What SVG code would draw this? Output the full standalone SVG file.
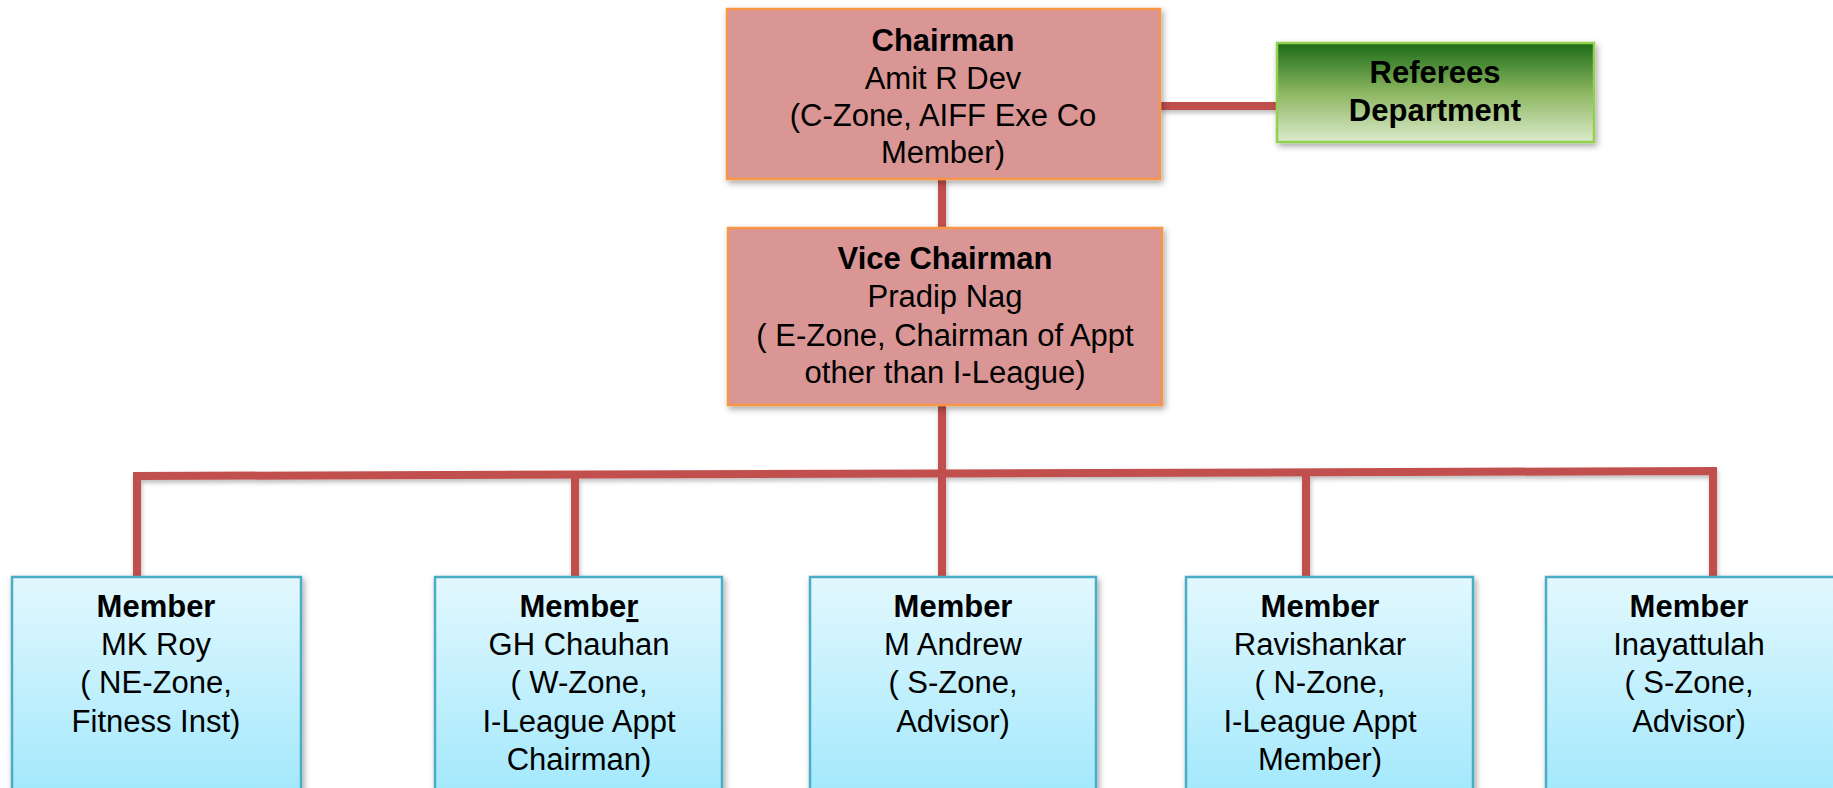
<svg xmlns="http://www.w3.org/2000/svg" width="1833" height="788" viewBox="0 0 1833 788">
<defs>
<linearGradient id="gGreen" x1="0" y1="0" x2="0" y2="1">
<stop offset="0" stop-color="#1B6B17"/>
<stop offset="0.5" stop-color="#8CB660"/>
<stop offset="1" stop-color="#DCEACB"/>
</linearGradient>
<linearGradient id="gBlue" x1="0" y1="0" x2="0" y2="1">
<stop offset="0" stop-color="#E2F8FE"/>
<stop offset="1" stop-color="#A2E8FC"/>
</linearGradient>
<filter id="sh" x="-10%" y="-10%" width="130%" height="130%">
<feDropShadow dx="2" dy="3" stdDeviation="3" flood-color="#000" flood-opacity="0.35"/>
</filter>
<filter id="lsh" x="-5%" y="-50%" width="110%" height="200%">
<feDropShadow dx="1" dy="3" stdDeviation="2" flood-color="#000" flood-opacity="0.25"/>
</filter>
</defs>
<style>
.red{fill:#D99694;stroke:#F79646;stroke-width:2.5}
.green{fill:url(#gGreen);stroke:#92D050;stroke-width:2.5}
.blue{fill:url(#gBlue);stroke:#4BACC6;stroke-width:2.5}
.conn{fill:none;stroke:#C0504D;stroke-width:8;stroke-linejoin:miter}
text{font-family:"Liberation Sans",Arial,sans-serif;font-size:31px;fill:#000;text-anchor:middle}
.b{font-weight:bold}
</style>
<g id="connectors" filter="url(#lsh)">
<path class="conn" d="M1160 106 H1277"/>
<path class="conn" d="M942 179 V228"/>
<path class="conn" d="M942 406 V577"/>
<path class="conn" d="M137 577 V476 L1713 471 V577"/>
<path class="conn" d="M575 476 V577"/>
<path class="conn" d="M1306 472 V577"/>
</g>
<g id="chairman">
<rect class="red" x="727" y="9" width="433" height="170" filter="url(#sh)"/>
<text x="943" y="51" class="b">Chairman</text>
<text x="943" y="89">Amit R Dev</text>
<text x="943" y="126">(C-Zone, AIFF Exe Co</text>
<text x="943" y="163">Member)</text>
</g>
<g id="referees">
<rect class="green" x="1277" y="43" width="317" height="99" filter="url(#sh)"/>
<text x="1435" y="83" class="b">Referees</text>
<text x="1435" y="121" class="b">Department</text>
</g>
<g id="vice-chairman">
<rect class="red" x="728" y="228" width="434" height="177" filter="url(#sh)"/>
<text x="945" y="269" class="b">Vice Chairman</text>
<text x="945" y="307">Pradip Nag</text>
<text x="945" y="346">( E-Zone, Chairman of Appt</text>
<text x="945" y="383">other than I-League)</text>
</g>
<g id="member-1">
<rect class="blue" x="12" y="577" width="289" height="220" filter="url(#sh)"/>
<text x="156" y="617" class="b">Member</text>
<text x="156" y="655">MK Roy</text>
<text x="156" y="693">( NE-Zone,</text>
<text x="156" y="732">Fitness Inst)</text>
</g>
<g id="member-2">
<rect class="blue" x="435" y="577" width="287" height="220" filter="url(#sh)"/>
<text x="579" y="617" class="b">Membe<tspan text-decoration="underline">r</tspan></text>
<text x="579" y="655">GH Chauhan</text>
<text x="579" y="693">( W-Zone,</text>
<text x="579" y="732">I-League Appt</text>
<text x="579" y="770">Chairman)</text>
</g>
<g id="member-3">
<rect class="blue" x="810" y="577" width="286" height="220" filter="url(#sh)"/>
<text x="953" y="617" class="b">Member</text>
<text x="953" y="655">M Andrew</text>
<text x="953" y="693">( S-Zone,</text>
<text x="953" y="732">Advisor)</text>
</g>
<g id="member-4">
<rect class="blue" x="1186" y="577" width="287" height="220" filter="url(#sh)"/>
<text x="1320" y="617" class="b">Member</text>
<text x="1320" y="655">Ravishankar</text>
<text x="1320" y="693">( N-Zone,</text>
<text x="1320" y="732">I-League Appt</text>
<text x="1320" y="770">Member)</text>
</g>
<g id="member-5">
<rect class="blue" x="1546" y="577" width="290" height="220" filter="url(#sh)"/>
<text x="1689" y="617" class="b">Member</text>
<text x="1689" y="655">Inayattulah</text>
<text x="1689" y="693">( S-Zone,</text>
<text x="1689" y="732">Advisor)</text>
</g>
</svg>
